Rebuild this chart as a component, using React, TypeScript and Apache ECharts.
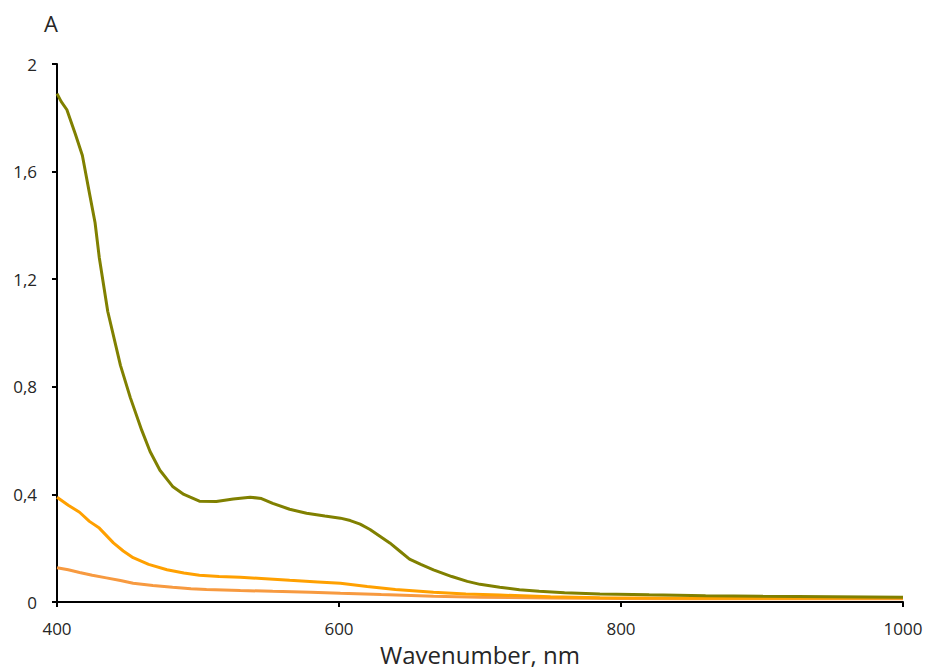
import React, { useEffect, useRef } from "react";
import * as echarts from "echarts";

const greenX = [400, 403, 407, 413, 418, 423, 427, 430, 436, 445, 452, 460, 466, 473, 482, 490, 501, 513, 525, 537, 545, 553, 565, 577, 590, 601, 608, 615, 622, 629, 636, 643, 650, 658, 667, 680, 691, 700, 714, 728, 742, 760, 785, 820, 860, 900, 950, 1000];
const greenY = [1.89, 1.86, 1.83, 1.74, 1.66, 1.52, 1.41, 1.28, 1.08, 0.88, 0.76, 0.64, 0.56, 0.49, 0.43, 0.4, 0.375, 0.374, 0.383, 0.39, 0.385, 0.367, 0.345, 0.33, 0.32, 0.312, 0.303, 0.29, 0.27, 0.245, 0.22, 0.19, 0.16, 0.14, 0.12, 0.095, 0.077, 0.066, 0.055, 0.046, 0.04, 0.035, 0.03, 0.027, 0.024, 0.022, 0.02, 0.018];

const orangeX = [400, 408, 416, 423, 430, 440, 447, 454, 465, 478, 490, 501, 515, 530, 545, 565, 585, 601, 620, 640, 667, 690, 714, 750, 785, 850, 900, 950, 1000];
const orangeY = [0.39, 0.36, 0.334, 0.3, 0.275, 0.22, 0.19, 0.165, 0.14, 0.12, 0.108, 0.1, 0.095, 0.092, 0.088, 0.081, 0.075, 0.07, 0.058, 0.047, 0.037, 0.03, 0.026, 0.02, 0.016, 0.014, 0.014, 0.015, 0.016];

const lightX = [400, 408, 416, 425, 435, 445, 454, 468, 482, 495, 506, 530, 553, 580, 601, 630, 667, 700, 750, 800, 850, 900, 950, 1000];
const lightY = [0.128, 0.12, 0.11, 0.1, 0.09, 0.08, 0.07, 0.062, 0.055, 0.05, 0.047, 0.043, 0.04, 0.037, 0.033, 0.028, 0.022, 0.018, 0.015, 0.013, 0.012, 0.012, 0.012, 0.012];

const xTicks = { min: 400, max: 1000, interval: 200 };
const yTicks = { min: 0, max: 2, interval: 0.4 };

const pairs = (xs: number[], ys: number[]) => xs.map((x, i) => [x, ys[i]]);

export default function App() {
  const ref = useRef<HTMLDivElement>(null);
  useEffect(() => {
    if (!ref.current) return;
    const chart = echarts.init(ref.current, undefined, { renderer: "svg" });
    const font = "'Open Sans', 'Noto Sans', sans-serif";
    const lineBase = { type: "line", showSymbol: false, smooth: false };
    chart.setOption({
      animation: false,
      backgroundColor: "#ffffff",
      grid: { left: 57, right: 23, top: 64, bottom: 63, containLabel: false },
      graphic: [
        {
          type: "text",
          left: 44,
          top: 12,
          style: { text: "A", font: `22px ${font}`, fill: "#262626" },
        },
      ],
      xAxis: {
        type: "value",
        min: xTicks.min,
        max: xTicks.max,
        interval: xTicks.interval,
        name: "Wavenumber, nm",
        nameLocation: "middle",
        nameGap: 35,
        nameTextStyle: { fontSize: 24, color: "#262626", fontFamily: font },
        axisLine: { show: true, onZero: false, lineStyle: { color: "#000", width: 2 } },
        axisTick: { show: true, length: 5, lineStyle: { color: "#000", width: 2 } },
        axisLabel: {
          fontSize: 17,
          color: "#262626",
          fontFamily: font,
          margin: 18,
          formatter: (v: number) => String(v),
        },
        splitLine: { show: false },
      },
      yAxis: {
        type: "value",
        min: yTicks.min,
        max: yTicks.max,
        interval: yTicks.interval,
        axisLine: { show: true, lineStyle: { color: "#000", width: 2 } },
        axisTick: { show: true, length: 5, lineStyle: { color: "#000", width: 2 } },
        axisLabel: {
          fontSize: 17,
          color: "#262626",
          fontFamily: font,
          margin: 20,
          formatter: (v: number) => String(Math.round(v * 10) / 10).replace(".", ","),
        },
        splitLine: { show: false },
      },
      series: [
        { ...lineBase, data: pairs(lightX, lightY), lineStyle: { color: "#F79A40", width: 3 } },
        { ...lineBase, data: pairs(orangeX, orangeY), lineStyle: { color: "#FFA000", width: 3 } },
        { ...lineBase, data: pairs(greenX, greenY), lineStyle: { color: "#808000", width: 3 } },
      ],
    });
    return () => chart.dispose();
  }, []);
  return <div ref={ref} style={{ width: 926, height: 671, position: "absolute", left: 0, top: 0 }} />;
}
